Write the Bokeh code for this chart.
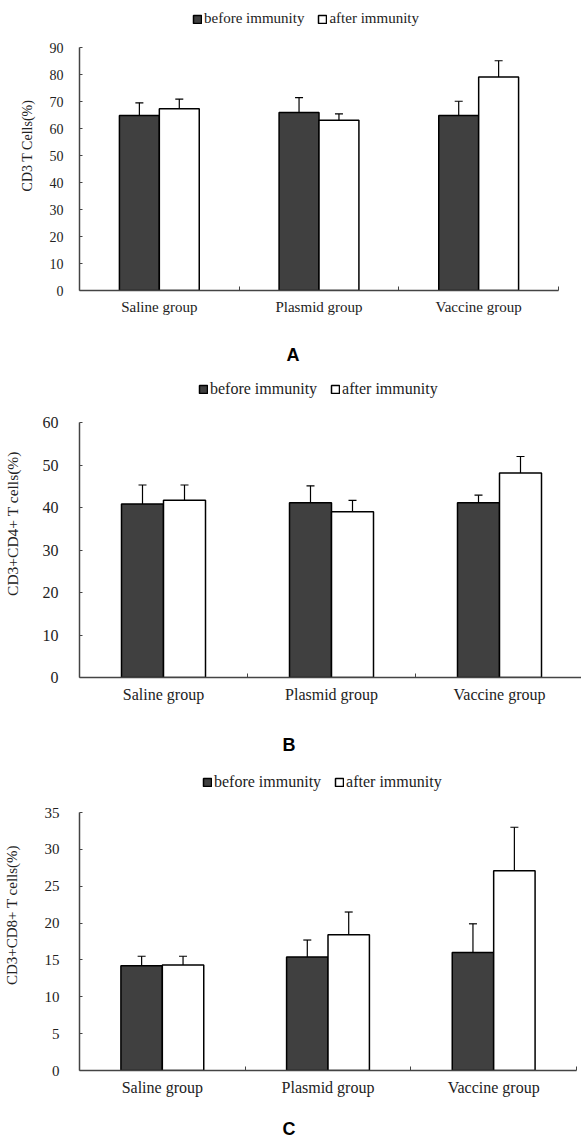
from bokeh.plotting import figure
from bokeh.layouts import column
from bokeh.models import (ColumnDataSource, Range1d, FixedTicker, Whisker, TeeHead,
                          Legend, LegendItem, Title)
from bokeh.embed import file_html
from bokeh.resources import INLINE

groups = ["Saline group", "Plasmid group", "Vaccine group"]
series = ["before immunity", "after immunity"]
letters = ["A", "B", "C"]

cd3_before = [64.8, 65.9, 64.8]
cd3_before_sd = [4.7, 5.5, 5.3]
cd3_after = [67.3, 63.1, 79.1]
cd3_after_sd = [3.6, 2.3, 6.0]
cd3_ticks = [0, 10, 20, 30, 40, 50, 60, 70, 80, 90]

cd4_before = [40.8, 41.1, 41.1]
cd4_before_sd = [4.5, 4.0, 1.8]
cd4_after = [41.7, 39.0, 48.1]
cd4_after_sd = [3.6, 2.7, 3.9]
cd4_ticks = [0, 10, 20, 30, 40, 50, 60]

cd8_before = [14.2, 15.4, 16.0]
cd8_before_sd = [1.3, 2.3, 3.9]
cd8_after = [14.3, 18.4, 27.1]
cd8_after_sd = [1.2, 3.1, 5.9]
cd8_ticks = [0, 5, 10, 15, 20, 25, 30, 35]

SERIF = "Liberation Serif"
DARK = "#404040"
AXIS = "#444444"
W = 581


def letter_title(text, frame_left, standoff=10):
    return Title(text=text, align="left", offset=280 - frame_left, standoff=standoff,
                 text_font="Liberation Sans", text_font_style="bold",
                 text_font_size="18px", text_color="black")


def panel(before, bsd, after, asd, yticks, ylabel, g, prev_letter=None):
    n = len(groups)
    centers = [i + 0.5 for i in range(n)]
    bw = 0.25
    y_end = yticks[-1] * g["fh"] / g["axh"]
    p = figure(frame_width=g["fw"], frame_height=g["fh"],
               min_border_left=g["bl"], min_border_right=W - g["bl"] - g["fw"],
               min_border_top=g["bt"], min_border_bottom=g["bb"],
               x_range=Range1d(0, n), y_range=Range1d(yticks[0], y_end),
               output_backend="svg", toolbar_location=None)
    p.outline_line_color = None
    p.xgrid.grid_line_color = None
    p.ygrid.grid_line_color = None

    src_b = ColumnDataSource(dict(x=[c - bw / 2 for c in centers], top=before,
                                  up=[v + e for v, e in zip(before, bsd)]))
    src_a = ColumnDataSource(dict(x=[c + bw / 2 for c in centers], top=after,
                                  up=[v + e for v, e in zip(after, asd)]))
    rb = p.vbar(x="x", top="top", bottom=0, width=bw, source=src_b,
                fill_color=DARK, line_color="black", line_width=1.5)
    ra = p.vbar(x="x", top="top", bottom=0, width=bw, source=src_a,
                fill_color="white", line_color="black", line_width=1.5)
    for s in (src_b, src_a):
        w = Whisker(source=s, base="x", lower="top", upper="up", dimension="height",
                    line_color="black", line_width=1.2, level="overlay",
                    upper_head=TeeHead(size=8, line_color="black", line_width=1.2),
                    lower_head=None)
        p.add_layout(w)

    xa = p.xaxis[0]
    xa.ticker = FixedTicker(ticks=centers, minor_ticks=[1, 2, 3])
    xa.major_label_overrides = {c: name for c, name in zip(centers, groups)}
    xa.major_tick_in = 0
    xa.major_tick_out = 0
    xa.minor_tick_in = 4
    xa.minor_tick_out = 0
    xa.minor_tick_line_color = AXIS
    xa.axis_line_color = AXIS
    xa.axis_line_width = 1.5
    xa.major_label_text_font = SERIF
    xa.major_label_text_font_size = g["xfs"]
    xa.major_label_text_color = "#222222"
    xa.major_label_standoff = 8

    ya = p.yaxis[0]
    ya.bounds = (yticks[0], yticks[-1])
    ya.ticker = FixedTicker(ticks=yticks)
    ya.major_tick_in = 3
    ya.major_tick_out = 0
    ya.minor_tick_line_color = None
    ya.axis_line_color = AXIS
    ya.axis_line_width = 1.5
    ya.major_tick_line_color = AXIS
    ya.major_label_text_font = SERIF
    ya.major_label_text_font_size = g["tfs"]
    ya.major_label_text_color = "#222222"
    ya.major_label_standoff = g["tst"]
    ya.axis_label = ylabel
    ya.axis_label_text_font = SERIF
    ya.axis_label_text_font_style = "normal"
    ya.axis_label_text_font_size = g["lfs"]
    ya.axis_label_text_color = "#222222"
    ya.axis_label_standoff = g["lst"]

    legend = Legend(items=[LegendItem(label=series[0], renderers=[rb]),
                           LegendItem(label=series[1], renderers=[ra])],
                    orientation="horizontal", location=g["leg"],
                    padding=0, margin=0, border_line_color=None,
                    background_fill_alpha=0, glyph_width=10, glyph_height=10,
                    label_standoff=2, spacing=13, label_height=14,
                    label_text_font=SERIF, label_text_font_size=g["gfs"],
                    label_text_color="#222222")
    p.add_layout(legend)

    if prev_letter is not None:
        p.add_layout(letter_title(prev_letter, g["bl"]), "above")
    return p


pa = panel(cd3_before, cd3_before_sd, cd3_after, cd3_after_sd, cd3_ticks,
           "CD3 T Cells(%)",
           dict(fw=479, fh=290, axh=243, bl=79, bt=0, bb=45, xfs="15px", tfs="14px",
                tst=16, lfs="14px", lst=12, leg=(113, 263), gfs="15px"))
pb = panel(cd4_before, cd4_before_sd, cd4_after, cd4_after_sd, cd4_ticks,
           "CD3+CD4+ T cells(%)",
           dict(fw=504, fh=308, axh=255, bl=73, bt=34, bb=48, xfs="16px", tfs="16px",
                tst=21, lfs="15.5px", lst=19, leg=(119, 279), gfs="16px"),
           prev_letter=letters[0])
pc = panel(cd8_before, cd8_before_sd, cd8_after, cd8_after_sd, cd8_ticks,
           "CD3+CD8+ T cells(%)",
           dict(fw=497, fh=311, axh=258, bl=77, bt=34, bb=40, xfs="16px", tfs="15px",
                tst=20, lfs="15px", lst=22, leg=(123, 279), gfs="16px"),
           prev_letter=letters[1])

# trailing strip that only carries the last panel letter
pd = figure(frame_width=497, frame_height=1, min_border_left=77, min_border_right=7,
            min_border_top=29, min_border_bottom=0, x_axis_type=None, y_axis_type=None,
            x_range=Range1d(0, 1), y_range=Range1d(0, 1),
            output_backend="svg", toolbar_location=None)
pd.outline_line_color = None
pd.grid.grid_line_color = None
pd.add_layout(letter_title(letters[2], 77, standoff=2), "above")

layout = column(pa, pb, pc, pd, spacing=0)
open("out.html", "w").write(file_html(layout, INLINE))
